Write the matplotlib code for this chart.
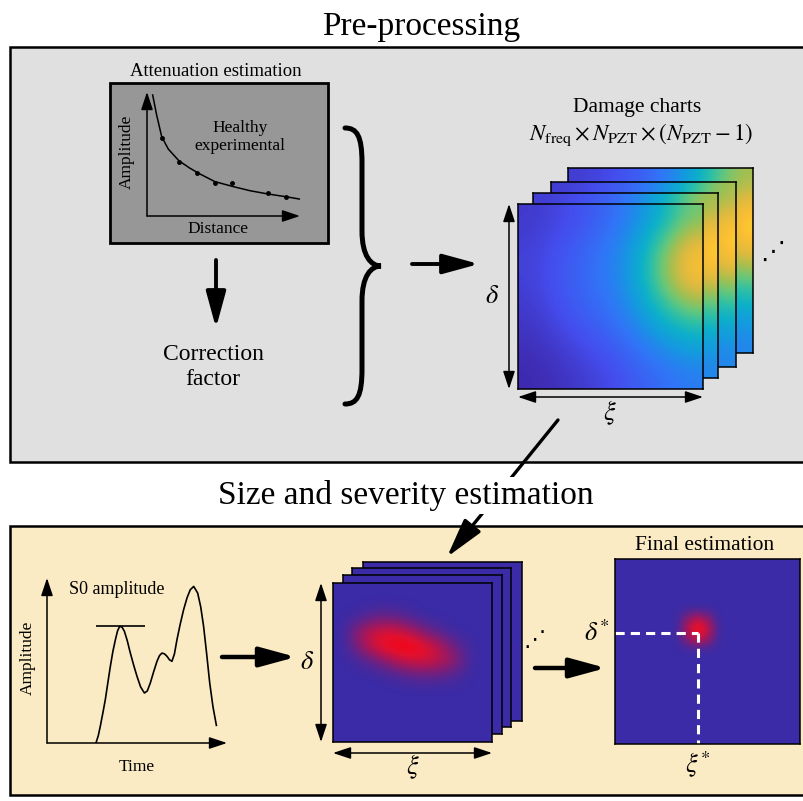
import numpy as np
import matplotlib
matplotlib.use('Agg')
import matplotlib.pyplot as plt
from matplotlib.colors import LinearSegmentedColormap
from matplotlib.patches import Rectangle, PathPatch
from matplotlib.path import Path

plt.rcParams['font.family'] = ['Liberation Serif', 'DejaVu Serif']
plt.rcParams['mathtext.fontset'] = 'stix'

# ---- data ----
# attenuation curve (distance, amplitude) in arbitrary 0-10 units
atten_fit_dist = [0.37, 0.63, 0.96, 1.39, 2.09, 2.81, 3.46, 4.44, 5.64, 6.73, 7.93, 9.06, 9.95]
atten_fit_amp = [9.76, 8.15, 6.40, 5.40, 4.45, 3.85, 3.39, 2.77, 2.37, 2.04, 1.77, 1.56, 1.37]
atten_meas_dist = [0.96, 2.09, 3.25, 4.44, 5.58, 7.93, 9.06]
atten_meas_amp = [6.30, 4.33, 3.44, 2.69, 2.63, 1.83, 1.56]

# S0 amplitude signal (time, amplitude)
s0_time = [2.72, 2.85, 2.96, 3.10, 3.24, 3.38, 3.52, 3.66, 3.80, 3.92, 4.04, 4.17, 4.30,
           4.46, 4.63, 4.82, 5.00, 5.20, 5.41, 5.57, 5.74, 5.92, 6.11, 6.25, 6.39, 6.53,
           6.67, 6.80, 6.94, 7.08, 7.22, 7.40, 7.59, 7.78, 7.96, 8.15, 8.37, 8.54, 8.70,
           8.87, 9.04, 9.22, 9.41]
s0_amp = [0.00, 0.45, 1.01, 1.80, 2.63, 3.65, 4.65, 5.55, 6.26, 6.80, 7.07, 7.02, 6.77,
          6.20, 5.45, 4.70, 4.04, 3.40, 3.03, 3.15, 3.64, 4.30, 4.95, 5.30, 5.45, 5.40,
          5.25, 5.05, 4.95, 5.40, 6.26, 7.20, 8.08, 8.80, 9.29, 9.49, 9.09, 8.25, 7.07,
          5.40, 3.64, 2.20, 1.07]
s0_peak_level = 7.07
s0_peak_span = (2.72, 5.46)

# damage chart values (rows top -> bottom, columns left -> right)
damage_front = [
    [0.05, 0.08, 0.12, 0.17, 0.25, 0.40, 0.62],
    [0.07, 0.11, 0.16, 0.22, 0.33, 0.62, 0.90],
    [0.07, 0.12, 0.17, 0.22, 0.34, 0.65, 0.90],
    [0.05, 0.10, 0.15, 0.19, 0.28, 0.45, 0.60],
    [0.03, 0.06, 0.10, 0.14, 0.20, 0.28, 0.35],
    [0.01, 0.03, 0.06, 0.09, 0.14, 0.18, 0.22],
]
damage_back = [
    [0.06, 0.09, 0.13, 0.19, 0.30, 0.50, 0.70],
    [0.08, 0.12, 0.17, 0.24, 0.38, 0.70, 0.95],
    [0.08, 0.12, 0.17, 0.24, 0.36, 0.68, 0.92],
    [0.06, 0.10, 0.15, 0.21, 0.30, 0.48, 0.62],
    [0.04, 0.07, 0.11, 0.16, 0.22, 0.30, 0.38],
    [0.02, 0.04, 0.07, 0.10, 0.15, 0.20, 0.25],
]

# size/severity chart: blob values on a sub-grid (rows top -> bottom)
blob_extent = (0.02, 0.92, 0.28, 0.91)
blob_values = [
    [0.00, 0.00, 0.00, 0.00, 0.00, 0.00, 0.00, 0.00, 0.00],
    [0.00, 0.05, 0.20, 0.20, 0.10, 0.00, 0.00, 0.00, 0.00],
    [0.00, 0.45, 0.70, 0.75, 0.60, 0.30, 0.10, 0.00, 0.00],
    [0.00, 0.35, 0.75, 0.95, 1.00, 0.85, 0.55, 0.20, 0.00],
    [0.00, 0.05, 0.20, 0.45, 0.65, 0.70, 0.60, 0.35, 0.00],
    [0.00, 0.00, 0.00, 0.05, 0.12, 0.18, 0.15, 0.08, 0.00],
    [0.00, 0.00, 0.00, 0.00, 0.00, 0.00, 0.00, 0.00, 0.00],
]

# final estimation
final_xi = 0.45
final_delta = 0.60
final_extent = (0.31, 0.59, 0.48, 0.76)
final_values = [
    [0.00, 0.00, 0.00, 0.00, 0.00],
    [0.00, 0.35, 0.60, 0.35, 0.00],
    [0.00, 0.60, 1.00, 0.65, 0.00],
    [0.00, 0.35, 0.65, 0.40, 0.00],
    [0.00, 0.00, 0.00, 0.00, 0.00],
]

parula = LinearSegmentedColormap.from_list('parula', [
    (0.00, (0.2422, 0.1504, 0.6603)),
    (0.10, (0.2700, 0.3000, 0.9300)),
    (0.20, (0.1900, 0.4600, 0.9700)),
    (0.30, (0.0800, 0.6000, 0.8800)),
    (0.40, (0.0500, 0.6900, 0.7900)),
    (0.50, (0.1800, 0.7500, 0.6500)),
    (0.60, (0.4000, 0.7800, 0.4800)),
    (0.70, (0.6400, 0.7500, 0.3200)),
    (0.80, (0.8600, 0.7300, 0.2500)),
    (0.90, (0.9900, 0.7500, 0.2000)),
    (1.00, (0.9769, 0.9839, 0.0805)),
])
chart_blue = '#3b2ba6'
bluered = LinearSegmentedColormap.from_list('bluered', [
    (0.0, chart_blue), (0.45, '#a0185e'), (0.75, '#e01030'), (1.0, '#ff0008')])

W, H = 804, 801
fig = plt.figure(figsize=(W / 100, H / 100), dpi=100)
ax = fig.add_axes([0, 0, 1, 1])
ax.set_xlim(0, W)
ax.set_ylim(H, 0)
ax.axis('off')


def arrow(start, end, lw=2.8, hl=1.1, hw=0.3, ms=20, style='-|>', a=None, coords='data'):
    a = a or ax
    a.annotate('', xy=end, xytext=start, xycoords=coords, textcoords=coords,
               arrowprops=dict(arrowstyle=f'{style},head_length={hl},head_width={hw}',
                               lw=lw, color='k', shrinkA=0, shrinkB=0,
                               mutation_scale=ms), zorder=4)


def chart_axes(x0, y0, size, lw=1.1):
    a = fig.add_axes([x0 / W, 1 - (y0 + size) / H, size / W, size / H])
    a.set_xticks([])
    a.set_yticks([])
    for s in a.spines.values():
        s.set_linewidth(lw)
    return a


def brace(x0, xm, xt, ytop, ybot, lw=3.6):
    ymid = (ytop + ybot) / 2
    verts = [(x0, ytop), (x0 + 12, ytop), (xm, ytop + 8), (xm, ytop + 35),
             (xm, ymid - 35),
             (xm, ymid - 10), (xt - 10, ymid), (xt, ymid),
             (xt - 10, ymid), (xm, ymid + 10), (xm, ymid + 35),
             (xm, ybot - 35),
             (xm, ybot - 8), (x0 + 12, ybot), (x0, ybot)]
    codes = [Path.MOVETO] + [Path.CURVE4] * 3 + [Path.LINETO] + [Path.CURVE4] * 6 + \
            [Path.LINETO] + [Path.CURVE4] * 3
    ax.add_patch(PathPatch(Path(verts, codes), fc='none', ec='k', lw=lw,
                           capstyle='round', zorder=3))


# panels
ax.add_patch(Rectangle((10, 47), 810, 415, fc='#e0e0e0', ec='k', lw=1.8, zorder=1))
ax.add_patch(Rectangle((10, 526), 810, 269, fc='#fbebc4', ec='k', lw=1.8, zorder=1))
ax.text(421, 35, 'Pre-processing', fontsize=24, ha='center', va='baseline')
ax.text(406, 504, 'Size and severity estimation', fontsize=24, ha='center', va='baseline',
        zorder=6, bbox=dict(boxstyle='square,pad=0.08', fc='white', ec='none'))

# attenuation estimation
ax.add_patch(Rectangle((110, 83), 218, 160, fc='#979797', ec='k', lw=2, zorder=2))
ax.text(216, 76, 'Attenuation estimation', fontsize=13.5, ha='center', va='baseline')
ax.text(127, 152, 'Amplitude', fontsize=12.5, rotation=90, ha='center', va='center', zorder=3)
ax.text(218, 229, 'Distance', fontsize=12.5, ha='center', va='center', zorder=3)
ax.text(240, 137, 'Healthy\nexperimental', fontsize=12.5, ha='center', va='center',
        linespacing=1.2, zorder=3)
a1 = fig.add_axes([147 / W, 1 - 216 / H, 153 / W, 124 / H])
a1.set_xlim(0, 10)
a1.set_ylim(0, 10)
a1.axis('off')
a1.plot(atten_fit_dist, atten_fit_amp, color='k', lw=1.1)
a1.plot(atten_meas_dist, atten_meas_amp, 'o', color='k', ms=2.5)
arrow((0, 0), (1, 0), lw=1.1, hl=0.9, hw=0.3, ms=12, a=a1, coords='axes fraction')
arrow((0, 0), (0, 1), lw=1.1, hl=0.9, hw=0.3, ms=12, a=a1, coords='axes fraction')

arrow((216, 260), (216, 328))
ax.text(213, 367, 'Correction\nfactor', fontsize=17, ha='center', va='center', linespacing=1.25)
brace(345, 362, 381, 128, 404)
arrow((412, 264), (479, 264))

# damage charts stack
ax.text(637, 112, 'Damage charts', fontsize=15.5, ha='center', va='baseline')
ax.text(641, 135, r'$N_{\mathrm{freq}}\times N_{\mathrm{PZT}}\times(N_{\mathrm{PZT}}-1)$',
        fontsize=16.5, ha='center', va='center')
for i, (x0, y0) in enumerate([(568, 168), (551, 182), (533, 193), (518, 204)]):
    a = chart_axes(x0, y0, 185)
    vals = damage_front if i == 3 else damage_back
    a.imshow(vals, cmap=parula, vmin=0, vmax=1, extent=(0, 1, 0, 1),
             interpolation='bicubic', aspect='auto')
ax.text(773, 252, '⋰', fontsize=18, family='DejaVu Sans', ha='center', va='center')
arrow((509, 204), (509, 389), lw=1.1, hl=0.9, hw=0.3, ms=12, style='<|-|>')
arrow((518, 397), (703, 397), lw=1.1, hl=0.9, hw=0.3, ms=12, style='<|-|>')
ax.text(492, 297, r'$\delta$', fontsize=19, ha='center', va='center')
ax.text(610, 413, r'$\xi$', fontsize=19, ha='center', va='center')

arrow((558, 420), (447, 557), lw=2.4, hl=1.2, hw=0.32, ms=20)

# S0 amplitude
a2 = fig.add_axes([47 / W, 1 - 743 / H, 180 / W, 165 / H])
a2.set_xlim(0, 10)
a2.set_ylim(0, 10)
a2.axis('off')
a2.plot(s0_time, s0_amp, color='k', lw=1.2)
a2.hlines(s0_peak_level, *s0_peak_span, color='k', lw=1.2)
arrow((0, 0), (1, 0), lw=1.1, hl=0.9, hw=0.3, ms=12, a=a2, coords='axes fraction')
arrow((0, 0), (0, 1), lw=1.1, hl=0.9, hw=0.3, ms=12, a=a2, coords='axes fraction')
ax.text(117, 589, 'S0 amplitude', fontsize=13, ha='center', va='center', zorder=3)
ax.text(28, 658, 'Amplitude', fontsize=12.5, rotation=90, ha='center', va='center', zorder=3)
ax.text(137, 767, 'Time', fontsize=12.5, ha='center', va='center', zorder=3)
arrow((222, 657), (296, 657), lw=3.2)

# size and severity stack
for i, (x0, y0) in enumerate([(363, 562), (352, 568), (343, 575), (333, 583)]):
    a = chart_axes(x0, y0, 159)
    a.set_facecolor(chart_blue)
    if i == 3:
        a.imshow(blob_values, cmap=bluered, vmin=0, vmax=1, extent=blob_extent,
                 interpolation='bicubic', aspect='auto')
    a.set_xlim(0, 1)
    a.set_ylim(0, 1)
ax.text(535, 640, '⋰', fontsize=16, family='DejaVu Sans', ha='center', va='center')
arrow((321, 583), (321, 742), lw=1.1, hl=0.9, hw=0.3, ms=12, style='<|-|>')
arrow((333, 753), (492, 753), lw=1.1, hl=0.9, hw=0.3, ms=12, style='<|-|>')
ax.text(307, 663, r'$\delta$', fontsize=19, ha='center', va='center')
ax.text(413, 767, r'$\xi$', fontsize=19, ha='center', va='center')
arrow((535, 668), (606, 668), lw=3.2)

# final estimation
ax.text(705, 550, 'Final estimation', fontsize=15.5, ha='center', va='baseline')
af = chart_axes(615, 559, 185)
af.set_facecolor(chart_blue)
af.imshow(final_values, cmap=bluered, vmin=0, vmax=1, extent=final_extent,
          interpolation='bicubic', aspect='auto')
af.set_xlim(0, 1)
af.set_ylim(0, 1)
af.plot([0, final_xi], [final_delta, final_delta], color='white', lw=2.2, ls=(0, (3, 2)))
af.plot([final_xi, final_xi], [final_delta, 0], color='white', lw=2.2, ls=(0, (3, 2)))
ax.text(597, 633, r'$\delta^{*}$', fontsize=19, ha='center', va='center')
ax.text(698, 765, r'$\xi^{*}$', fontsize=19, ha='center', va='center')

fig.savefig('out.png', dpi=100)
